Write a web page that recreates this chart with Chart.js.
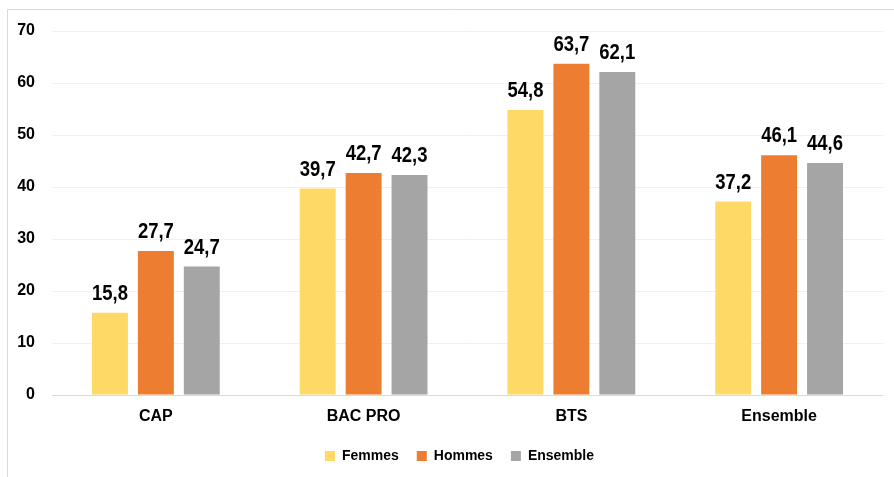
<!DOCTYPE html>
<html>
<head>
<meta charset="utf-8">
<script src="https://cdn.jsdelivr.net/npm/chart.js@4/dist/chart.umd.min.js"></script>
<style>
  html, body { margin: 0; padding: 0; background: #fff; }
  #wrap { width: 894px; height: 477px; position: relative; }
</style>
</head>
<body>
<div id="wrap"><canvas id="c" width="894" height="477"></canvas></div>
<script>
const categories = ['CAP', 'BAC PRO', 'BTS', 'Ensemble'];
const femmes = [15.8, 39.7, 54.8, 37.2];
const hommes = [27.7, 42.7, 63.7, 46.1];
const ensemble = [24.7, 42.3, 62.1, 44.6];
const seriesNames = ['Femmes', 'Hommes', 'Ensemble'];
const yTicks = [0, 10, 20, 30, 40, 50, 60, 70];

const FONT = '"Liberation Sans", Arial, sans-serif';

// Thin frame around the chart (left and top edges visible)
const framePlugin = {
  id: 'frame',
  beforeDraw(chart) {
    const ctx = chart.ctx;
    ctx.save();
    ctx.fillStyle = '#fff';
    ctx.fillRect(0, 0, chart.width, chart.height);
    ctx.strokeStyle = '#d9d9d9';
    ctx.lineWidth = 1;
    ctx.beginPath();
    ctx.moveTo(7.5, chart.height);
    ctx.lineTo(7.5, 9.5);
    ctx.lineTo(chart.width, 9.5);
    ctx.stroke();
    ctx.restore();
  }
};

// Nudge the legend a little to the right of the canvas centre
const legendShift = {
  id: 'legendShift',
  afterLayout(chart) {
    if (chart.legend) {
      chart.legend.left += 18;
      chart.legend.right += 18;
    }
  }
};

// Value labels above each bar, decimal comma, slightly condensed
const valueLabels = {
  id: 'valueLabels',
  afterDatasetsDraw(chart) {
    const ctx = chart.ctx;
    chart.data.datasets.forEach((ds, i) => {
      chart.getDatasetMeta(i).data.forEach((bar, j) => {
        const txt = ds.data[j].toFixed(1).replace('.', ',');
        ctx.save();
        ctx.font = 'bold 22px ' + FONT;
        ctx.fillStyle = '#000';
        ctx.textAlign = 'center';
        ctx.textBaseline = 'alphabetic';
        ctx.translate(bar.x, bar.y - 13);
        ctx.scale(0.84, 1);
        ctx.fillText(txt, 0, 0);
        ctx.restore();
      });
    });
  }
};

new Chart(document.getElementById('c'), {
  type: 'bar',
  data: {
    labels: categories,
    datasets: [
      { label: seriesNames[0], data: femmes, backgroundColor: '#FFD966' },
      { label: seriesNames[1], data: hommes, backgroundColor: '#ED7D31' },
      { label: seriesNames[2], data: ensemble, backgroundColor: '#A5A5A5' }
    ]
  },
  options: {
    responsive: false,
    animation: false,
    devicePixelRatio: 1,
    layout: { padding: { left: 0, right: 11, top: 31, bottom: 4 } },
    datasets: { bar: { categoryPercentage: 0.663, barPercentage: 0.783 } },
    plugins: {
      legend: {
        position: 'bottom',
        labels: {
          boxWidth: 10, boxHeight: 10, padding: 18,
          color: '#000',
          font: { family: FONT, size: 14, weight: 'bold' }
        }
      },
      tooltip: { enabled: false }
    },
    scales: {
      x: {
        grid: { display: false, drawTicks: false },
        border: { display: false },
        ticks: { color: '#000', padding: 12, font: { family: FONT, size: 16, weight: 'bold' } },
        afterFit(s) { s.height = 36; }
      },
      y: {
        min: 0, max: 70,
        afterBuildTicks(s) { s.ticks = yTicks.map(v => ({ value: v })); },
        grid: {
          drawTicks: false,
          color: (c) => c.tick && c.tick.value === 0 ? '#d9d9d9' : '#f0f0f0'
        },
        border: { display: false },
        ticks: { color: '#000', padding: 17, font: { family: FONT, size: 16, weight: 'bold' } },
        afterFit(s) { s.width = 52; }
      }
    }
  },
  plugins: [framePlugin, legendShift, valueLabels]
});
</script>
</body>
</html>
